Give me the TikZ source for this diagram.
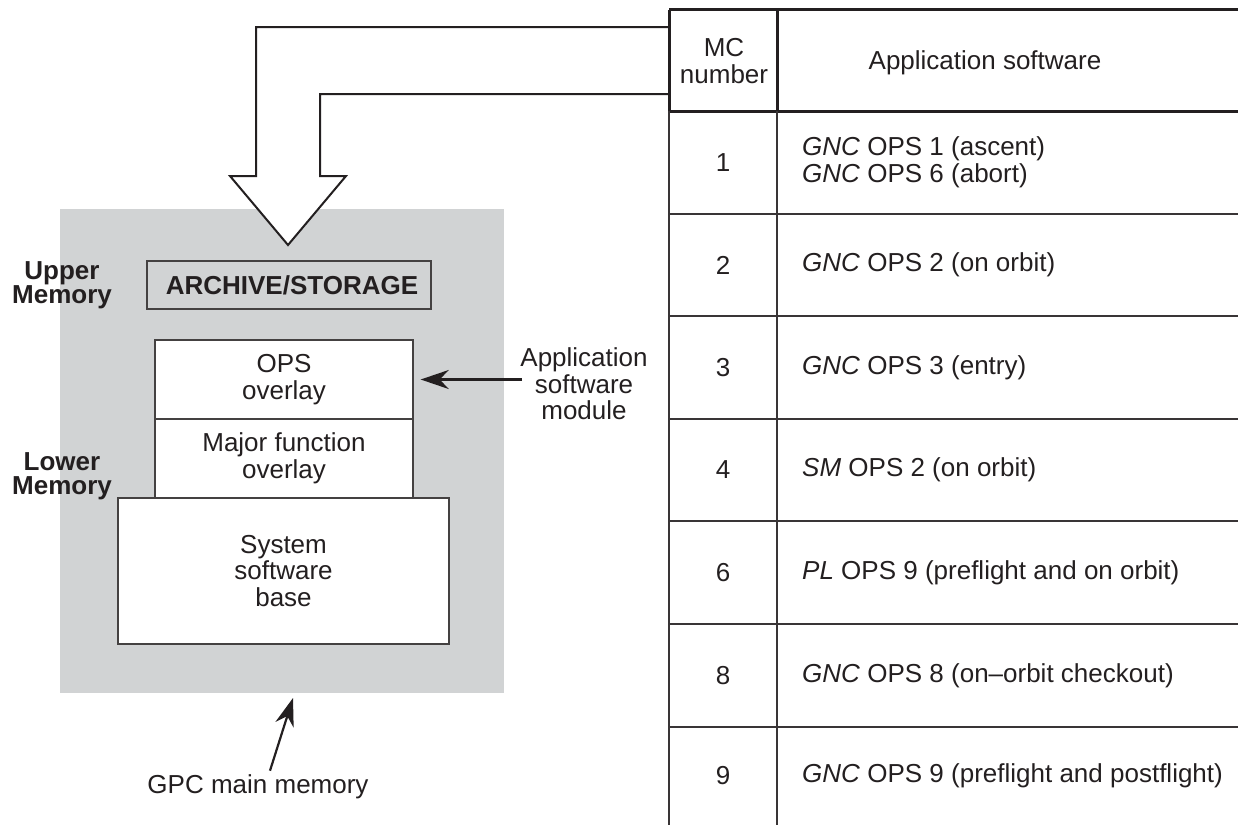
\documentclass[tikz,border=0pt]{standalone}
\usepackage{fontspec}
\setmainfont{Liberation Sans}
\usetikzlibrary{arrows.meta}
\definecolor{ink}{HTML}{231F20}
\definecolor{memgray}{HTML}{D1D3D4}
\begin{document}
\begin{tikzpicture}[x=1pt,y=-1pt,
  font=\fontsize{26}{26.5}\selectfont, text=ink,
  box/.style={draw=ink!85, line width=1.4pt, fill=white, inner sep=0pt, align=center},
  lbl/.style={align=center, inner sep=0pt},
  boldlbl/.style={align=center, inner sep=0pt, font=\fontsize{26}{24}\selectfont\bfseries},
  rowtxt/.style={align=left, inner sep=0pt, anchor=west},
  numtxt/.style={inner sep=0pt},
  tline/.style={draw=ink!90, line width=1.8pt},
  hline/.style={draw=ink, line width=3pt},
  ptr/.style={draw=ink, line width=2.2pt, -{Stealth[length=28pt,width=19pt,inset=9pt]}},
]
\useasboundingbox (0,0) rectangle (1238,825);

% GPC main memory area
\node (mem) [fill=memgray, inner sep=0pt, minimum width=444pt, minimum height=484pt, anchor=north west] at (60,209) {};

% hollow transfer arrow from table
\filldraw[fill=white, draw=ink, line width=2pt, line join=miter]
  (669,27) -- (256,27) -- (256,176) -- (230,176) -- (288,245) -- (346,176) -- (320,176) -- (320,94) -- (669,94);

% memory contents
\node (arch) [draw=ink!85, line width=1.4pt, inner sep=0pt, minimum width=284pt, minimum height=48pt,
  font=\fontsize{26}{26}\selectfont\bfseries] at (289,285) {\hspace*{6pt}ARCHIVE/STORAGE};
\node (ops) [box, minimum width=258pt, minimum height=79pt] at (284,379.5) {OPS\\overlay};
\node (major) [box, minimum width=258pt, minimum height=79pt] at (284,458.5) {Major function\\overlay};
\node (sys) [box, minimum width=331pt, minimum height=146pt] at (283.5,571) {System\\software\\base};

\node (upper) [boldlbl] at (62,285.5) {Upper\\Memory};
\node (lower) [boldlbl] at (62,476) {Lower\\Memory};

\node (appmod) [lbl] at (584,384) {Application\\software\\module};
\draw[ptr] ([xshift=2pt]appmod.west |- ops.east) -- ([xshift=7pt]ops.east);

\node (gpc) [lbl] at (258,787) {GPC main memory};
\coordinate (gpctip) at (293,698);
\draw[ptr] ([xshift=12pt,yshift=4pt]gpc.north) -- (gpctip);

% table
\draw[hline] (669,9.5) -- (1238,9.5);
\draw[hline] (669,111) -- (1238,111);
\draw[hline] (669,9.5) -- (669,111);
\draw[hline] (777,8) -- (777,111);
\draw[tline] (669,111) -- (669,825);
\draw[tline] (777,111) -- (777,825);
\foreach \yy in {214,316,419,521,624,727}
  \draw[tline] (669,\yy) -- (1238,\yy);

\node (hmc) [lbl] at (724,61) {MC\\number};
\node (hsw) [lbl] at (985,63) {Application software};

\node (n1) [numtxt] at (723,162.5) {1};
\node (t1) [rowtxt] at (802,162.5) {\textit{GNC} OPS 1 (ascent)\\\textit{GNC} OPS 6 (abort)};
\node (n2) [numtxt] at (723,265) {2};
\node (t2) [rowtxt] at (802,265) {\textit{GNC} OPS 2 (on orbit)};
\node (n3) [numtxt] at (723,367.5) {3};
\node (t3) [rowtxt] at (802,367.5) {\textit{GNC} OPS 3 (entry)};
\node (n4) [numtxt] at (723,470) {4};
\node (t4) [rowtxt] at (802,470) {\textit{SM} OPS 2 (on orbit)};
\node (n6) [numtxt] at (723,572.5) {6};
\node (t6) [rowtxt] at (802,572.5) {\textit{PL} OPS 9 (preflight and on orbit)};
\node (n8) [numtxt] at (723,675.5) {8};
\node (t8) [rowtxt] at (802,675.5) {\textit{GNC} OPS 8 (on–orbit checkout)};
\node (n9) [numtxt] at (723,776) {9};
\node (t9) [rowtxt] at (802,776) {\textit{GNC} OPS 9 (preflight and postflight)};
\end{tikzpicture}
\end{document}
